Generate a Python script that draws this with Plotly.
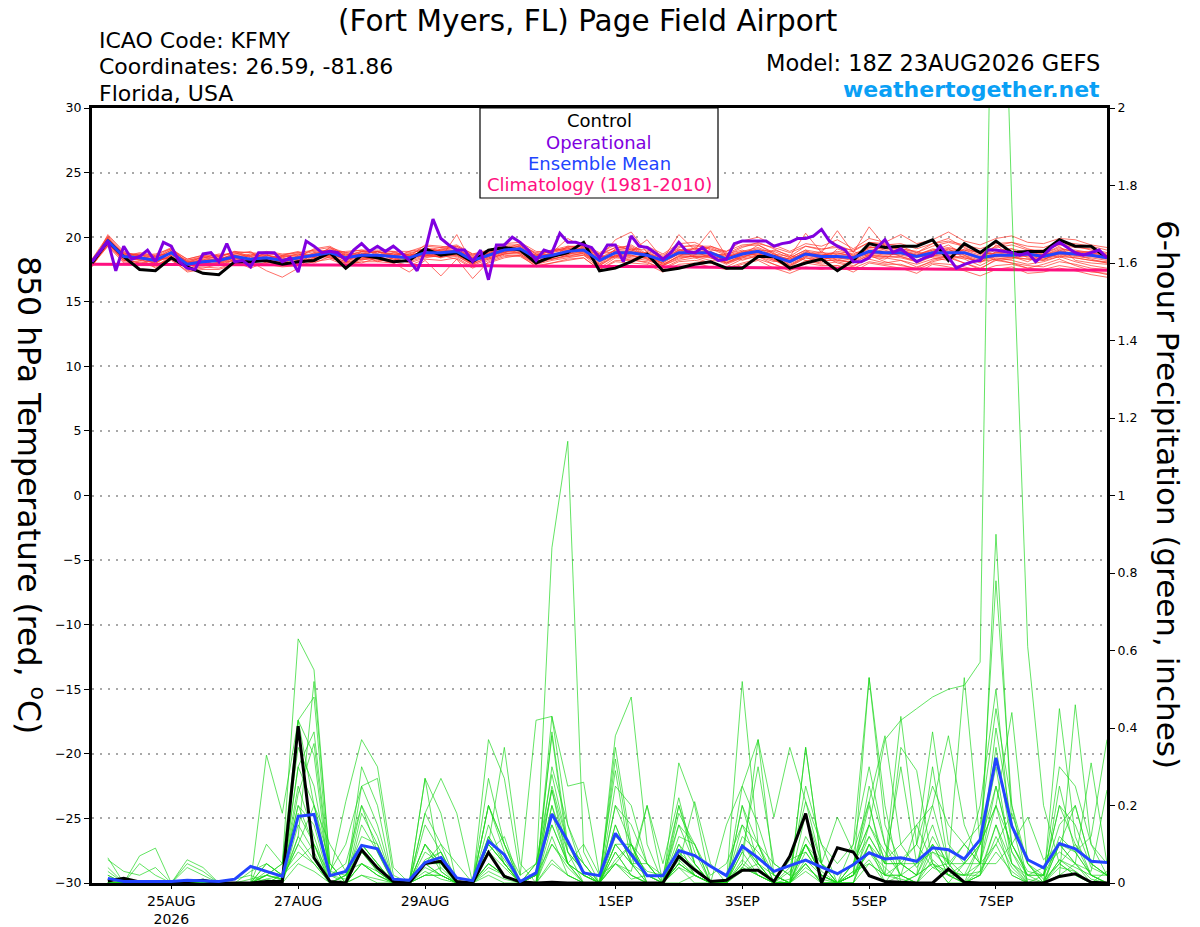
import pandas as pd
import plotly.graph_objects as go

''' GEFS plume: 850 hPa temperature (left) and 6-hour precipitation (right) '''

# Time axes: 6-hourly ensemble, 3-hourly operational run
t6 = pd.date_range('2026-08-23 18:00', '2026-09-08 18:00', freq='6h')
t3 = pd.date_range('2026-08-23 18:00', '2026-09-08 18:00', freq='3h')
# 6-hour precipitation totals start one step later
tp = t6[1:]

tick_dates = ['2026-08-25', '2026-08-27', '2026-08-29', '2026-09-01',
              '2026-09-03', '2026-09-05', '2026-09-07']
tick_labels = ['25AUG<br>2026', '27AUG', '29AUG', '1SEP', '3SEP', '5SEP', '7SEP']

# 850 hPa temperature (C)
ctrl_t = [18.0, 19.7, 18.5, 17.5, 17.4, 18.4, 17.7, 17.2, 17.1, 18.1, 18.1, 18.2, 17.9,
          18.1, 18.2, 18.8, 17.6, 18.6, 18.4, 18.1, 18.2, 19.1, 18.6, 18.8, 18.1, 19.0,
          19.2, 19.0, 18.0, 18.5, 18.8, 19.6, 17.4, 17.6, 18.1, 18.7, 17.4, 17.6, 17.9,
          18.1, 17.6, 17.6, 18.5, 18.5, 17.6, 18.0, 18.3, 17.4, 18.2, 19.5, 19.2, 19.3,
          19.3, 19.8, 18.2, 19.5, 18.8, 19.7, 18.8, 18.9, 18.9, 19.8, 19.3, 19.3, 18.4]

mean_t = [18.1, 19.7, 18.5, 18.4, 18.2, 18.8, 17.9, 18.1, 18.2, 18.5, 18.3, 18.4, 18.2,
          18.4, 18.6, 18.8, 18.4, 18.6, 18.6, 18.5, 18.4, 18.8, 18.8, 18.9, 18.2, 18.6,
          19.0, 19.1, 18.4, 18.6, 18.9, 19.0, 18.2, 18.8, 18.8, 18.6, 18.2, 18.8, 18.8,
          18.8, 18.3, 18.7, 18.9, 18.5, 18.1, 18.7, 18.5, 18.5, 18.4, 18.9, 18.8, 18.8,
          18.5, 18.8, 18.8, 18.8, 18.4, 18.6, 18.6, 18.7, 18.5, 18.8, 18.7, 18.6, 18.4]

clim_t = [17.90, 17.90, 17.90, 17.89, 17.89, 17.89, 17.88, 17.88, 17.88, 17.87,
          17.87, 17.86, 17.86, 17.85, 17.85, 17.84, 17.84, 17.83, 17.83, 17.82,
          17.82, 17.81, 17.80, 17.80, 17.79, 17.78, 17.78, 17.77, 17.76, 17.76,
          17.75, 17.74, 17.73, 17.73, 17.72, 17.71, 17.70, 17.69, 17.69, 17.68,
          17.67, 17.66, 17.65, 17.64, 17.63, 17.62, 17.61, 17.60, 17.59, 17.58,
          17.57, 17.56, 17.55, 17.54, 17.53, 17.52, 17.51, 17.50, 17.49, 17.48,
          17.47, 17.46, 17.45, 17.44, 17.43]

oper_t = [18.1, 18.9, 19.7, 17.4, 19.3, 18.3, 18.5, 19.0, 18.1, 19.6,
          19.3, 18.1, 17.6, 17.5, 18.7, 18.8, 18.1, 19.5, 18.1, 18.2,
          17.7, 18.8, 18.8, 18.8, 18.1, 18.4, 17.3, 19.7, 19.3, 18.8,
          18.9, 18.8, 18.2, 19.0, 19.5, 18.9, 19.3, 18.9, 19.3, 18.8,
          18.2, 17.4, 18.9, 21.4, 19.9, 19.4, 19.0, 19.0, 18.1, 19.0,
          16.7, 19.4, 19.4, 20.0, 19.6, 19.0, 18.2, 19.0, 18.8, 20.3,
          19.6, 19.6, 19.4, 19.2, 18.4, 19.4, 19.4, 18.1, 20.1, 19.3,
          19.2, 18.8, 18.3, 18.8, 19.6, 18.9, 18.8, 19.2, 18.6, 18.2,
          18.3, 19.5, 19.7, 19.7, 19.7, 19.7, 19.3, 19.5, 19.6, 19.9,
          19.9, 20.1, 20.6, 19.7, 19.3, 19.0, 18.1, 18.1, 18.4, 19.2,
          19.8, 18.8, 19.1, 18.6, 18.1, 18.4, 18.6, 19.3, 18.4, 17.6,
          17.9, 18.1, 18.2, 19.0, 19.0, 18.9, 18.8, 18.6, 18.8, 18.1,
          18.6, 19.2, 19.6, 19.2, 18.8, 18.6, 18.8, 19.0, 18.4]

# Perturbed members, temperature
mem_t = [
    [18.0,19.9,18.7,18.2,18.0, 18.6,18.1,17.8,18.4,18.9, 18.5,18.2,17.9,18.6,19.0, 18.9,18.2,18.7,18.9,18.3, 18.1,19.2,18.9,18.6,18.0, 18.8,19.3,19.0,18.2,18.9, 19.2,18.7,18.0,19.1,19.4, 18.7,17.9,18.5,19.2,18.9, 18.0,18.6,19.4,18.8,17.8, 18.5,18.9,18.2,18.0,19.3, 19.0,18.5,18.1,18.9,19.4, 18.6,18.0,18.9,19.1,18.4, 18.2,19.0,18.6,18.3,18.0],
    [18.2,19.6,18.3,18.6,18.5, 19.1,17.7,18.3,18.0,18.2, 18.0,18.6,18.4,18.2,18.3, 18.6,18.7,18.4,18.3,18.8, 18.6,18.5,19.1,19.2,18.5, 18.4,18.8,19.4,18.7,18.3, 18.6,19.3,18.5,18.5,18.2, 18.9,18.5,19.1,18.4,18.6, 18.7,19.0,18.5,18.1,18.4, 19.0,18.2,18.7,18.9,18.5, 18.3,19.1,18.9,18.4,18.2, 19.1,18.8,18.2,18.3,19.0, 18.9,18.4,18.9,18.8,18.6],
    [17.9,20.2,18.9,18.5,17.9, 18.9,18.0,18.5,18.6,18.1, 17.6,18.1,18.6,18.9,18.4, 19.2,18.5,18.3,18.9,18.7, 18.2,18.9,18.4,20.2,17.9, 18.9,19.2,18.7,17.9,18.4, 19.3,19.1,18.6,18.4,19.1, 18.3,17.8,18.3,18.6,19.3, 18.8,18.2,18.6,19.0,18.6, 18.2,18.0,19.1,18.6,18.7, 19.4,19.0,18.0,18.5,19.1, 18.4,18.1,19.4,18.5,18.1, 18.7,19.3,18.2,18.0,17.9],
    [18.1,19.5,18.1,17.9,18.3, 18.4,17.6,17.9,18.0,18.6, 18.5,18.7,18.0,17.9,18.8, 18.4,18.0,18.9,18.5,18.2, 18.7,18.6,18.5,19.0,18.3, 18.3,18.7,18.9,18.6,18.7, 18.5,18.8,17.9,18.9,18.6, 18.4,18.0,19.0,18.9,18.4, 17.9,18.4,18.9,18.3,17.5, 18.1,18.6,18.0,17.7,18.6, 18.1,17.8,17.6,18.2,18.5, 18.0,17.5,18.3,18.0,17.6, 17.9,18.3,17.8,17.4,17.1],
    [18.3,19.8,18.6,18.4,17.6, 18.7,18.2,18.4,18.5,18.9, 18.8,18.4,18.5,18.7,18.5, 19.0,18.8,18.6,18.1,18.4, 18.9,19.1,18.7,18.9,18.6, 19.0,18.8,19.2,18.5,19.0, 19.1,19.4,18.8,19.4,19.0, 19.3,18.7,19.5,19.6,19.0, 18.9,19.7,20.0,19.4,18.9, 19.5,19.3,19.8,19.1,19.9, 19.6,20.2,19.5,19.8,20.4, 19.7,19.4,19.9,20.1,19.6, 19.5,19.9,19.8,19.4,19.2],
    [17.8,19.4,18.4,18.7,18.1, 18.5,17.5,17.7,17.6,18.0, 18.1,17.4,16.9,17.6,18.7, 18.5,17.9,18.2,18.6,18.4, 18.0,18.4,18.6,18.3,17.6, 18.2,18.6,18.5,17.8,18.0, 18.3,18.4,17.5,18.1,18.0, 17.9,17.3,17.9,18.0,17.7, 17.5,17.9,18.2,17.6,17.2, 17.7,17.5,17.8,17.3,18.0, 17.8,17.6,17.2,17.9,17.7, 17.4,17.0,17.5,17.7,17.2, 17.3,17.6,17.4,17.1,16.9],
    [18.2,19.7,18.8,18.3,18.4, 19.0,18.3,18.6,18.3,18.7, 18.9,18.0,18.3,18.5,19.1, 19.3,18.6,18.9,18.8,18.9, 18.5,19.4,19.3,19.1,18.4, 18.9,19.5,19.6,18.9,18.8, 19.9,19.2,18.4,19.8,20.4, 18.8,18.4,19.2,19.4,19.1, 18.6,19.2,19.6,19.1,18.5, 19.3,19.0,19.4,18.9,19.6, 19.5,19.3,18.8,19.5,19.9, 19.2,18.7,19.3,19.6,19.1, 18.8,19.5,19.3,19.0,18.7],
    [18.0,19.3,18.2,18.1,17.8, 18.2,17.4,17.6,17.9,18.4, 18.2,18.5,18.1,18.0,18.2, 18.7,18.3,18.5,18.3,18.0, 18.3,18.7,18.4,18.7,17.9, 18.5,18.9,18.8,18.1,18.5, 18.7,18.9,17.8,18.6,18.4, 18.2,17.8,18.6,18.5,18.2, 18.1,18.5,18.8,18.2,17.7, 18.4,18.1,18.3,18.0,18.6, 18.4,18.2,17.9,18.3,18.6, 18.3,17.8,18.4,18.2,17.9, 18.1,18.5,18.1,17.8,17.6],
    [18.1,20.0,18.5,18.8,18.6, 19.2,18.0,18.2,18.4,18.3, 18.6,18.9,18.7,18.8,18.4, 18.8,18.9,19.0,18.7,18.6, 18.8,19.0,19.2,19.4,18.7, 18.7,19.1,19.3,18.6,18.9, 19.0,19.2,18.7,18.9,18.9, 19.8,18.3,20.2,19.0,20.5, 18.5,18.8,19.1,18.6,18.3, 18.8,18.6,18.9,18.7,19.2, 19.1,18.9,18.6,19.0,19.2, 18.9,18.5,19.0,19.1,18.8, 18.6,19.1,18.9,18.7,18.5],
    [17.7,19.6,18.2,18.0,17.9, 18.3,17.8,18.0,17.8,18.2, 17.9,18.0,18.2,18.3,18.0, 18.5,18.1,18.0,18.4,18.1, 17.8,18.3,18.2,18.4,17.7, 18.0,18.4,18.6,17.9,18.2, 18.4,18.6,17.6,18.4,18.3, 18.0,17.6,18.2,18.4,18.0, 17.7,18.3,18.5,17.9,17.5, 18.2,17.9,18.1,17.8,18.3, 18.0,18.2,17.7,18.1,18.4, 18.0,17.6,18.2,18.0,17.8, 17.7,18.1,17.9,17.6,17.5],
    [18.2,19.9,18.6,18.5,18.3, 18.9,18.2,18.5,18.1,18.4, 18.7,18.3,18.5,18.6,18.9, 18.7,18.4,18.8,18.5,18.7, 18.6,18.9,19.0,19.3,18.6, 18.6,19.0,19.2,18.3,18.8, 19.1,19.0,18.3,19.0,19.2, 18.5,18.1,18.7,18.7,18.9, 18.4,18.9,19.2,18.7,18.2, 18.9,18.7,18.6,18.5,19.1, 18.9,19.0,18.6,19.1,18.9, 19.0,18.6,18.8,18.9,18.9, 18.7,19.2,18.8,18.9,18.6],
    [17.9,19.4,18.4,18.2,18.1, 18.6,17.8,17.9,18.3,18.6, 18.1,18.3,17.9,18.2,18.5, 18.8,18.2,18.4,18.7,18.3, 18.4,18.6,18.7,18.7,18.0, 18.6,18.8,19.0,18.4,18.4, 18.8,18.9,18.2,18.7,18.7, 18.8,18.2,18.7,18.6,18.6, 18.2,18.6,18.7,18.4,18.0, 18.6,18.4,18.4,18.3,18.8, 18.6,18.7,18.5,18.6,18.7, 18.7,18.3,18.5,18.4,18.6, 18.4,18.7,18.6,18.5,18.3],
    [18.1,19.8,18.7,18.7,18.5, 18.8,18.0,18.3,18.5,18.8, 18.4,18.6,18.3,18.5,18.7, 19.1,18.7,18.7,18.9,18.5, 18.5,19.0,18.9,19.0,18.3, 18.7,19.3,19.3,18.5,18.6, 19.0,19.1,18.4,19.0,19.0, 18.7,18.4,19.0,19.1,18.7, 18.6,18.9,19.0,18.9,18.4, 19.0,18.8,18.7,18.6,19.2, 19.2,19.0,18.7,19.0,19.1, 19.0,18.8,18.7,18.8,18.9, 18.6,19.0,19.0,18.8,18.5],
    [18.0,19.5,18.3,18.0,17.7, 18.5,17.6,17.8,17.8,18.3, 18.2,18.1,17.8,18.0,18.4, 18.4,18.0,18.3,18.2,18.2, 18.1,18.5,18.5,18.6,17.8, 18.3,18.7,18.7,18.0,18.3, 18.6,18.7,17.8,18.5,18.6, 18.3,17.8,18.4,18.5,18.5, 18.0,18.4,18.6,18.2,17.8, 18.4,18.2,18.2,18.1,18.6, 18.5,18.4,18.1,18.5,18.4, 18.4,18.1,18.3,18.4,18.3, 18.2,18.5,18.4,18.2,18.0],
    [18.3,20.1,18.8,18.6,18.4, 19.0,18.1,18.4,18.7,18.6, 18.3,18.8,18.6,18.4,18.8, 19.0,18.5,18.9,18.9,18.6, 18.7,19.1,19.0,19.1,18.4, 18.8,19.1,19.5,18.7,18.9, 19.2,19.4,18.6,19.2,19.3, 18.6,18.3,19.0,19.1,19.2, 18.7,19.3,19.4,18.7,18.5, 20.3,18.8,20.5,18.8,20.8, 19.3,19.1,18.8,19.3,19.6, 19.3,18.9,19.2,19.4,19.0, 19.0,19.4,19.2,19.1,18.8],
    [17.8,19.3,18.0,17.8,17.8, 18.3,17.3,17.5,17.5,17.9, 17.8,17.9,17.7,17.8,18.1, 18.3,17.8,18.1,18.1,18.0, 17.3,18.2,17.0,18.3,16.8, 18.1,18.5,18.6,17.7,18.0, 18.2,18.4,17.5,18.2,18.2, 18.1,17.5,18.1,18.2,18.0, 17.6,18.0,18.3,17.9,17.4, 18.0,17.8,17.8,17.6,18.1, 17.9,17.9,17.5,18.0,17.9, 17.7,17.4,17.8,17.9,17.6, 17.5,17.8,17.6,17.3,17.2],
    [18.1,19.9,18.5,18.3,18.6, 18.7,18.1,18.2,18.3,18.7, 18.6,18.6,18.4,18.7,18.5, 18.9,18.6,18.6,18.6,18.8, 18.6,18.8,19.0,18.9,18.4, 18.7,19.0,19.0,18.6,18.7, 18.9,19.0,18.3,18.8,18.9, 18.7,18.2,18.9,18.9,18.8, 18.5,18.8,18.9,18.6,18.3, 18.8,18.6,18.8,18.5,18.9, 18.8,18.9,18.6,18.9,19.0, 18.8,18.4,18.8,18.8,18.7, 18.6,18.9,18.8,18.6,18.5],
    [18.0,19.6,18.6,18.4,18.0, 18.8,17.9,18.0,18.0,18.4, 18.3,18.2,18.1,18.3,18.6, 18.6,18.3,18.5,18.4,18.6, 18.3,18.7,18.7,18.8,18.1, 18.5,18.9,19.1,18.3,18.5, 18.7,18.8,18.1,18.6,18.8, 18.5,18.0,18.7,18.7,18.6, 18.2,18.7,18.8,18.5,18.1, 18.7,18.4,18.5,18.4,18.8, 18.7,18.6,18.4,18.7,18.8, 18.6,18.2,18.6,18.6,18.5, 18.3,18.7,18.5,18.4,18.2],
    [18.2,20.0,18.7,18.6,18.7, 19.1,18.3,18.6,18.6,18.8, 18.8,18.7,18.6,18.8,19.0, 19.2,18.8,19.0,19.0,18.9, 18.9,19.3,19.2,19.3,18.7, 19.0,19.4,19.4,18.8,19.0, 19.3,19.3,18.7,19.2,19.1, 19.0,18.6,19.3,19.3,19.3, 18.9,19.4,19.5,19.2,18.8, 19.3,19.1,19.2,19.0,19.6, 19.4,19.5,19.1,19.5,19.7, 19.4,19.1,19.5,19.6,19.3, 19.2,19.6,19.5,19.3,19.0],
    [17.9,19.5,18.2,18.3,18.2, 18.4,17.7,18.1,18.1,18.5, 18.0,18.4,18.0,18.1,18.3, 18.6,18.1,18.3,18.4,18.1, 18.2,18.6,18.6,18.5,17.9, 18.4,18.7,18.8,18.2,18.3, 18.5,18.6,17.9,18.6,18.5, 18.4,17.9,18.5,18.5,18.4, 18.0,18.5,18.7,18.3,17.9, 18.5,18.3,18.4,18.2,18.7, 18.5,18.5,18.2,18.6,18.5, 18.5,18.1,18.5,18.5,18.3, 18.3,18.6,18.4,18.2,18.1],
]

# 6-hour precipitation (inches), valid 00Z 24AUG onward
ctrl_p = [0.005, 0.012, 0.003, 0, 0, 0.003, 0.007, 0, 0, 0, 0.004, 0.004, 0.405, 0.065,
          0.004, 0, 0.086, 0.039, 0.004, 0, 0.05, 0.056, 0.004, 0, 0.079, 0.017, 0.003, 0,
          0.002, 0, 0, 0, 0, 0, 0, 0, 0.069, 0.034, 0.004, 0.007, 0.033, 0.033, 0.004,
          0.069, 0.179, 0, 0.091, 0.08, 0.019, 0.004, 0.002, 0, 0, 0.036, 0.002, 0, 0, 0,
          0, 0, 0.017, 0.024, 0.002, 0]

mean_p = [0.012, 0.004, 0.004, 0.004, 0.004, 0.007, 0.006, 0.004, 0.01,
          0.043, 0.03, 0.017, 0.172, 0.177, 0.019, 0.03, 0.097, 0.088, 0.01,
          0.007, 0.053, 0.066, 0.013, 0.006, 0.108, 0.073, 0.004, 0.026, 0.178,
          0.108, 0.026, 0.019, 0.128, 0.073, 0.019, 0.019, 0.084, 0.071, 0.043,
          0.019, 0.095, 0.065, 0.03, 0.045, 0.059, 0.041, 0.024, 0.047, 0.078,
          0.062, 0.065, 0.056, 0.091, 0.086, 0.062, 0.112, 0.323, 0.147, 0.06,
          0.039, 0.102, 0.088, 0.056, 0.053]

mem_p = [
    [0,0,0,0, 0,0,0,0,0.01, 0.02,0,0,0.12,0.06, 0,0.02,0.1,0.05,0, 0,0.05,0.08,0,0, 0.12,0.05,0,0.02,0.1, 0.05,0,0,0.08,0.02, 0,0,0.06,0.02,0, 0,0.1,0.04,0,0.03, 0.1,0.02,0,0.05,0.15, 0.37,0.42,0.45,0.48,0.5, 0.51,0.57,3.1,1.75,0.61, 0.2,0.05,0.02,0,0.03],
    [0,0,0,0, 0,0,0,0,0, 0,0.01,0.02,0.08,0.05, 0,0,0.05,0.03,0, 0,0.02,0.04,0,0, 0.03,0.01,0,0.02,0.865, 1.14,0.08,0,0.05,0.1, 0.02,0,0.04,0,0, 0,0.06,0.02,0,0.01, 0.05,0,0,0.02,0.08, 0.04,0,0.02,0.1,0.05, 0,0.02,0.12,0.04,0, 0,0.06,0.03,0,0],
    [0.065,0,0,0, 0,0,0,0,0, 0,0.02,0.05,0.63,0.55, 0.05,0,0.08,0.03,0, 0,0.04,0.02,0,0, 0.02,0,0,0,0.05, 0.02,0,0,0.38,0.48, 0.1,0,0,0.02,0, 0,0.04,0.1,0,0, 0.03,0,0,0.02,0.53, 0.2,0,0.02,0.05,0, 0,0.02,0.9,0.15,0, 0,0.02,0.05,0.01,0],
    [0.03,0,0.07,0.09, 0,0.06,0.04,0,0, 0,0.33,0.18,0.42,0.48, 0.02,0.21,0.37,0.3,0.04, 0,0.27,0.18,0,0, 0.05,0.02,0,0,0.43, 0.15,0.02,0,0.05,0.03, 0.2,0,0.05,0.02,0, 0,0.52,0.1,0,0, 0.35,0.05,0,0,0.1, 0,0.02,0.15,0.05,0, 0.05,0.1,0.78,0.2,0, 0,0.45,0.12,0.02,0],
    [0.02,0,0,0, 0,0.04,0.02,0,0, 0.03,0.05,0.02,0.3,0.39, 0.03,0.1,0.25,0.27,0.02, 0,0.18,0.27,0.18,0, 0.37,0.27,0.02,0.42,0.43, 0.25,0.26,0.02,0.05,0.01, 0.02,0,0.31,0.2,0, 0.15,0.25,0.37,0.17,0.35, 0.21,0.05,0.17,0.08,0.21, 0.38,0.1,0.04,0.1,0.02, 0,0.05,0.05,0.1,0.17, 0.06,0.1,0.08,0.12,0.37],
    [0.01,0,0,0, 0,0,0,0,0, 0,0.1,0.05,0.42,0.33, 0,0.02,0.12,0.1,0, 0,0.1,0.05,0,0, 0.1,0.35,0.05,0,0.39, 0.1,0.02,0,0.32,0.08, 0.02,0,0.05,0.21,0.05, 0,0.05,0.37,0.02,0, 0.35,0.05,0,0.02,0.1, 0.05,0.43,0.1,0.04,0.05, 0.53,0.1,0.2,0.44,0.05, 0,0.02,0.46,0.1,0.02],
    [0,0,0.05,0.02, 0,0,0.01,0,0, 0,0.02,0.01,0.23,0.36, 0.02,0.05,0.2,0.08,0, 0,0.27,0.03,0,0, 0.27,0.1,0,0.05,0.24, 0.05,0.1,0.02,0.29,0.05, 0.2,0.05,0.22,0.05,0, 0,0.1,0.05,0,0.04, 0.21,0.1,0,0.05,0.21, 0.02,0.35,0.29,0.05,0.02, 0.05,0.2,0.5,0.1,0.02, 0.04,0.08,0.05,0.31,0.05],
    [0,0,0,0, 0,0,0,0,0, 0.01,0.02,0.01,0.12,0.52, 0.05,0,0.3,0.2,0, 0,0.05,0.1,0,0, 0.2,0.1,0,0.02,0.38, 0.08,0,0,0.1,0.1, 0,0,0.1,0.05,0, 0,0.2,0.05,0,0.06, 0.08,0.02,0,0.02,0.06, 0,0.06,0.1,0.39,0.1, 0.05,0.1,0.3,0.05,0.02, 0.02,0.2,0.1,0.05,0.02],
    [0,0,0,0, 0,0,0,0,0, 0,0,0.01,0.1,0.2, 0.1,0.03,0.05,0.02,0, 0,0.08,0.05,0,0, 0.08,0.04,0,0.02,0.2, 0.08,0.03,0,0.1,0.05, 0.02,0,0.12,0.1,0, 0,0.08,0.3,0.05,0.02, 0.1,0.02,0,0.1,0.53, 0.15,0.05,0.05,0.2,0.05, 0,0.1,0.2,0.05,0, 0.02,0.15,0.2,0.05,0.02],
    [0.04,0,0,0, 0,0,0,0,0, 0,0,0.02,0.06,0.1, 0,0.02,0.08,0.03,0, 0,0.02,0.02,0,0, 0.05,0.02,0,0,0.1, 0.04,0,0,0.06,0.1, 0.05,0.02,0.08,0.02,0, 0,0.03,0.05,0.02,0, 0.06,0.02,0,0.03,0.05, 0.02,0.05,0.02,0.05,0.03, 0.02,0.03,0.15,0.05,0.01, 0,0.06,0.04,0.02,0],
    [0,0,0,0, 0,0,0,0,0, 0,0.03,0.02,0.2,0.1, 0.02,0.01,0.1,0.05,0, 0,0.05,0.02,0,0, 0.1,0.05,0,0,0.25, 0.1,0.05,0,0.2,0.1, 0,0,0.15,0.05,0, 0,0.15,0.05,0,0, 0.12,0.05,0,0,0.15, 0.08,0.02,0.05,0.15,0.03, 0.02,0.1,0.25,0.08,0.02, 0.02,0.2,0.15,0.04,0.02],
    [0,0,0,0, 0,0,0,0,0, 0,0.01,0,0.15,0.08, 0,0,0.05,0.02,0, 0,0.1,0.05,0,0, 0.08,0.12,0,0,0.15, 0.05,0.02,0,0.15,0.05, 0.05,0,0.05,0.02,0, 0,0.05,0.02,0,0, 0.05,0,0,0.02,0.25, 0.1,0.02,0,0.08,0.06, 0.02,0.05,0.1,0.18,0.05, 0.01,0.05,0.1,0.02,0],
    [0.06,0.03,0.02,0.04, 0,0.05,0.03,0,0, 0,0.05,0.02,0.25,0.12, 0,0,0.18,0.1,0, 0,0.15,0.08,0,0, 0.15,0.05,0,0,0.3, 0.15,0.05,0,0.25,0.2, 0.05,0,0.2,0.05,0, 0,0.2,0.1,0.02,0, 0.1,0.03,0,0.05,0.12, 0.05,0.3,0.05,0.08,0.04, 0.1,0.05,0.2,0.1,0.02, 0,0.1,0.05,0.03,0.24],
    [0,0,0,0, 0,0,0,0,0, 0,0.02,0.01,0.3,0.2, 0.05,0,0.15,0.08,0, 0,0.06,0.08,0,0, 0.12,0.06,0,0.05,0.15, 0.05,0.02,0,0.12,0.08, 0.03,0.02,0.2,0.08,0, 0,0.12,0.08,0.02,0, 0.18,0.05,0,0.03,0.2, 0.05,0.05,0.02,0.3,0.05, 0.1,0.05,0.35,0.1,0.03, 0.02,0.1,0.2,0.05,0.02],
    [0,0,0,0, 0,0,0,0,0, 0,0,0,0.18,0.1, 0,0,0.05,0.02,0, 0,0.05,0.02,0,0, 0.2,0.08,0,0,0.2, 0.05,0.02,0,0.15,0.05, 0,0,0.1,0.02,0, 0,0.08,0.02,0,0, 0.08,0.02,0,0,0.1, 0.02,0.02,0,0.1,0.02, 0.02,0.02,0.15,0.02,0, 0,0.1,0.05,0,0],
    [0,0,0,0, 0,0,0,0,0, 0,0,0.01,0.1,0.05, 0,0,0.02,0,0, 0,0.02,0.02,0,0, 0.05,0.02,0,0,0.12, 0.02,0,0,0.08,0.02, 0,0,0.05,0.02,0, 0,0.04,0.02,0,0, 0.05,0,0,0.02,0.08, 0.02,0.02,0,0.06,0.02, 0,0.03,0.1,0.02,0, 0,0.05,0.02,0,0],
    [0.01,0,0,0, 0,0,0,0,0, 0,0.02,0.05,0.35,0.25, 0.03,0.02,0.2,0.12,0, 0,0.1,0.03,0,0, 0.1,0.05,0,0.02,0.24, 0.08,0.03,0,0.35,0.1, 0.02,0.02,0.15,0.1,0, 0,0.25,0.15,0.02,0, 0.1,0.05,0.02,0.05,0.15, 0.06,0.1,0.15,0.2,0.38, 0.15,0.05,0.4,0.15,0.05, 0,0.25,0.08,0.02,0.02],
    [0,0,0,0, 0,0,0,0,0, 0,0,0.02,0.2,0.15, 0,0,0.1,0.05,0, 0,0.05,0.05,0,0, 0.1,0.05,0,0,0.18, 0.05,0,0,0.1,0.05, 0,0,0.08,0.04,0, 0,0.1,0.05,0,0, 0.1,0.02,0,0.02,0.12, 0.05,0.05,0.02,0.12,0.05, 0.05,0.05,0.25,0.08,0, 0,0.12,0.08,0.02,0],
    [0.02,0,0,0, 0,0,0,0,0, 0,0.05,0.02,0.42,0.2, 0.02,0,0.25,0.15,0, 0,0.18,0.1,0.05,0, 0.2,0.1,0.02,0.05,0.28, 0.1,0.05,0,0.2,0.15, 0.05,0,0.18,0.1,0.02, 0.05,0.15,0.1,0.05,0.02, 0.25,0.1,0.05,0.1,0.3, 0.1,0.05,0.1,0.25,0.15, 0.1,0.15,0.45,0.2,0.05, 0.02,0.3,0.25,0.1,0.05],
    [0,0,0,0, 0,0,0,0,0, 0,0,0,0.05,0.03, 0,0,0.02,0.01,0, 0,0.03,0.01,0,0, 0.04,0.02,0,0,0.06, 0.02,0,0,0.05,0.02, 0,0,0.04,0.02,0, 0,0.04,0.02,0,0, 0.04,0.01,0,0,0.05, 0.02,0.01,0,0.04,0.02, 0,0.02,0.08,0.03,0, 0,0.04,0.03,0,0],
]

# Page is 1200 x 927; the body margin is removed so page pixels = figure pixels
W, H = 1200, 927
L, R, T, B = 92, 1107, 108, 883


def px(x, y):
    # page pixel position -> paper coordinates
    return (x - L) / (R - L), (B - y) / (B - T)


FONT = 'DejaVu Sans, Liberation Sans, sans-serif'

fig = go.Figure()

# Ensemble members
for m in mem_t:
    fig.add_trace(go.Scatter(x=t6, y=m, mode='lines', yaxis='y',
                             line=dict(color='rgba(255,55,45,0.8)', width=0.9)))
for m in mem_p:
    fig.add_trace(go.Scatter(x=tp, y=m, mode='lines', yaxis='y2',
                             line=dict(color='rgba(25,215,25,0.85)', width=0.8)))

# Climatology, control, operational, ensemble mean
fig.add_trace(go.Scatter(x=t6, y=clim_t, mode='lines', yaxis='y',
                         line=dict(color='#ff1080', width=3)))
fig.add_trace(go.Scatter(x=t6, y=ctrl_t, mode='lines', yaxis='y',
                         line=dict(color='black', width=3)))
fig.add_trace(go.Scatter(x=t6, y=mean_t, mode='lines', yaxis='y',
                         line=dict(color='#2244ff', width=3)))
fig.add_trace(go.Scatter(x=t3, y=oper_t, mode='lines', yaxis='y',
                         line=dict(color='#8000e0', width=3)))
fig.add_trace(go.Scatter(x=tp, y=ctrl_p, mode='lines', yaxis='y2',
                         line=dict(color='black', width=3)))
fig.add_trace(go.Scatter(x=tp, y=mean_p, mode='lines', yaxis='y2',
                         line=dict(color='#2244ff', width=3)))

# Header texts
ann = []


def text(s, x, y, xanchor='center', size=22, color='black', angle=0):
    xp, yp = px(x, y)
    ann.append(dict(text=s, x=xp, y=yp, xref='paper', yref='paper', showarrow=False,
                    xanchor=xanchor, yanchor='middle', textangle=angle,
                    font=dict(family=FONT, size=size, color=color)))


text('(Fort Myers, FL) Page Field Airport', 587, 20.5, size=29.5)
text('ICAO Code: KFMY', 97, 40, xanchor='left')
text('Coordinates: 26.59, -81.86', 97, 66, xanchor='left')
text('Florida, USA', 97, 93, xanchor='left')
text('Model: 18Z 23AUG2026 GEFS', 1102, 63, xanchor='right', size=22.5)
text('<b>weathertogether.net</b>', 1102, 89, xanchor='right', size=22, color='#0aa0f5')
text('850 hPa Temperature (red, <sup>o</sup>C)', 31, 495, size=31.5, angle=90)
text('6-hour Precipitation (green, inches)', 1168, 494, size=31, angle=90)

# Legend box
legend_lines = [('Control', 'black'), ('Operational', '#8000e0'),
                ('Ensemble Mean', '#2244ff'), ('Climatology (1981-2010)', '#ff1080')]
for k, (s, c) in enumerate(legend_lines):
    text(s, 599, 121 + 21.3 * k, size=18, color=c)

bx0, by0 = px(480, 198)
bx1, by1 = px(718, 108)

fig.update_layout(
    width=W, height=H,
    margin=dict(l=L, r=W - R, t=T, b=H - B, autoexpand=False),
    paper_bgcolor='white', plot_bgcolor='white',
    showlegend=False,
    font=dict(family=FONT, color='black'),
    annotations=ann,
    shapes=[dict(type='rect', xref='paper', yref='paper', x0=bx0, x1=bx1, y0=by0, y1=by1,
                 line=dict(color='black', width=1.2), fillcolor='white', layer='above')],
    xaxis=dict(
        range=[t6[0], t6[-1]],
        tickvals=tick_dates, ticktext=tick_labels,
        ticks='outside', ticklen=3, tickcolor='black',
        tickfont=dict(size=14),
        showgrid=False, zeroline=False,
        showline=True, linecolor='black', linewidth=3, mirror=True,
    ),
    yaxis=dict(
        range=[-30, 30], dtick=5,
        ticks='outside', ticklen=5, tickcolor='black',
        tickfont=dict(size=12.5),
        showgrid=True, gridcolor='#a8a8a8', gridwidth=1.5, griddash='2px,6px',
        zeroline=False,
        showline=True, linecolor='black', linewidth=3,
    ),
    yaxis2=dict(
        range=[0, 2], dtick=0.2, overlaying='y', side='right',
        ticks='outside', ticklen=5, tickcolor='black',
        tickfont=dict(size=12.5),
        showgrid=False, zeroline=False,
        showline=True, linecolor='black', linewidth=3,
    ),
)

# Drop the default page margin so the figure sits at the window's corner
fig.write_html("out.html", config={'displayModeBar': False},
               post_script="document.body.style.margin='0px';")
